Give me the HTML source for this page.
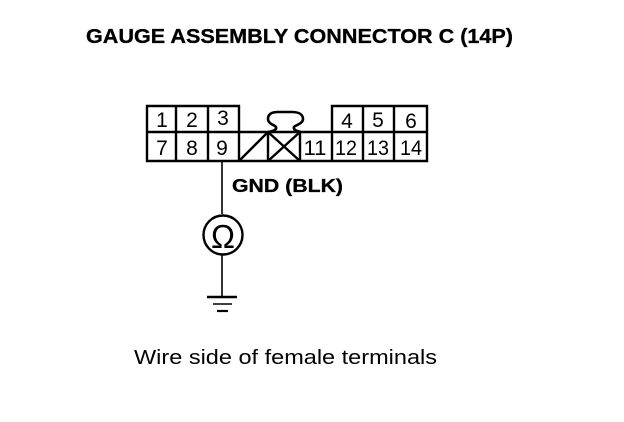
<!DOCTYPE html>
<html>
<head>
<meta charset="utf-8">
<style>
html,body{margin:0;padding:0;background:#fff}
svg{display:block}
text{font-family:"Liberation Sans",sans-serif;fill:#000}
.n{font-size:21px;text-anchor:middle}
.m{font-size:21px;text-anchor:middle}
.b{font-weight:bold;stroke:#000;stroke-width:.3px}
</style>
</head>
<body>
<svg width="624" height="422" viewBox="0 0 624 422" xmlns="http://www.w3.org/2000/svg">
<text class="b" x="86" y="43" font-size="20" textLength="427" lengthAdjust="spacingAndGlyphs">GAUGE ASSEMBLY CONNECTOR C (14P)</text>

<g fill="none" stroke="#000" stroke-width="2.4">
<path d="M147 106H239V132H332V106H427V161H147Z"/>
<path d="M147 132H239M332 132H427"/>
<path d="M176 106V161M208 106V161M239 132V161M268 132V161M300 132V161M332 132V161M363 106V161M394 106V161"/>
<path d="M239 161L268 132M268 132L300 161M268 161L300 132"/>
<path d="M268 132C273 131 277 130 276 127C275 125 268 124 268 119C268 114 272 112 278 112H292C298 112 303 114 303 119C303 124 295 125 294 127C293 130 297 131 301 132" stroke-width="2.6"/>
</g>

<text class="n" x="162" y="127">1</text>
<text class="n" x="192" y="127">2</text>
<text class="n" x="223" y="125">3</text>
<text class="n" x="347" y="128">4</text>
<text class="n" x="378" y="127">5</text>
<text class="n" x="411" y="128">6</text>
<text class="n" x="162" y="155">7</text>
<text class="n" x="192" y="155">8</text>
<text class="n" x="222" y="155">9</text>
<text class="m" x="315" y="155" textLength="23" lengthAdjust="spacingAndGlyphs">11</text>
<text class="m" x="346" y="155" textLength="22" lengthAdjust="spacingAndGlyphs">12</text>
<text class="m" x="378" y="155" textLength="22" lengthAdjust="spacingAndGlyphs">13</text>
<text class="m" x="411" y="155" textLength="22" lengthAdjust="spacingAndGlyphs">14</text>

<text class="b" x="232" y="192" font-size="18.5" textLength="111" lengthAdjust="spacingAndGlyphs">GND (BLK)</text>

<g fill="none" stroke="#000">
<path d="M222 161V214M222 255V296" stroke-width="1.6"/>
<circle cx="223" cy="235" r="19.5" stroke-width="2.4"/>
<path d="M207 297H237" stroke-width="2.4"/>
<path d="M213 304H232" stroke-width="1.5"/>
<path d="M217 311H228" stroke-width="2.2"/>
</g>
<text x="223" y="248" font-size="33" text-anchor="middle" textLength="24" lengthAdjust="spacingAndGlyphs">Ω</text>

<text x="134" y="364" font-size="20" textLength="303" lengthAdjust="spacingAndGlyphs">Wire side of female terminals</text>
</svg>
</body>
</html>
